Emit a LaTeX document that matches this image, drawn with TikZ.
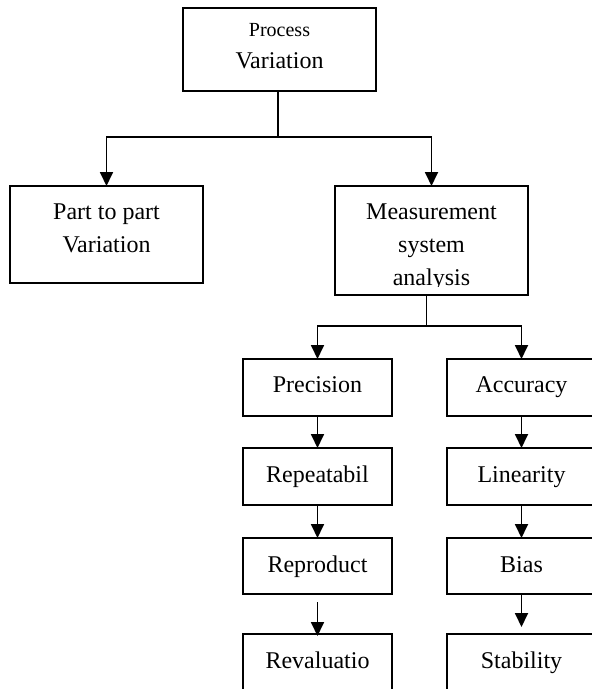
\documentclass[tikz,border=0pt]{standalone}
\usepackage{fontspec}
\setmainfont{Liberation Serif}
\usetikzlibrary{arrows.meta}
\begin{document}
\begin{tikzpicture}[x=1pt,y=-1pt,
  box/.style={draw=black, line width=1.8pt, fill=white, inner sep=0pt, outer sep=0pt, rectangle},
  bigbox/.style={box, minimum width=193pt},
  smallbox/.style={box, minimum width=149pt},
  lbl/.style={inner sep=0pt, anchor=base, font=\fontsize{24}{28}\selectfont},
  slbl/.style={inner sep=0pt, anchor=base, font=\fontsize{20}{24}\selectfont},
  conn/.style={line width=1.8pt},
  link/.style={line width=1.8pt, -{Triangle[width=13pt,length=14pt]}}]
\useasboundingbox (0,0) rectangle (592,689);
\clip (0,0) rectangle (592,689);
\fill[white] (0,0) rectangle (592,689);

% boxes
\node[bigbox, minimum height=83pt] (pv) at (279.5,49.5) {};
\node[bigbox, minimum height=97pt] (part) at (106.5,234.5) {};
\node[bigbox, minimum height=109pt] (meas) at (431.5,240.5) {};
\node[smallbox, minimum height=57pt] (prec) at (317.5,387.5) {};
\node[smallbox, minimum height=57pt] (acc) at (521.5,387.5) {};
\node[smallbox, minimum height=57pt] (rpt) at (317.5,476.5) {};
\node[smallbox, minimum height=57pt] (lin) at (521.5,476.5) {};
\node[smallbox, minimum height=56pt] (rpd) at (317.5,566) {};
\node[smallbox, minimum height=56pt] (bias) at (521.5,566) {};
\node[smallbox, minimum height=66pt] (reval) at (317.5,667) {};
\node[smallbox, minimum height=66pt] (stab) at (521.5,667) {};

% labels
\node[slbl] (t-process) at (279.5,36) {Process};
\node[lbl] (t-pvar) at (279.5,68) {Variation};
\node[lbl] (t-part1) at (106.5,219) {Part to part};
\node[lbl] (t-part2) at (106.5,252) {Variation};
\node[lbl] (t-meas1) at (431.5,219) {Measurement};
\node[lbl] (t-meas2) at (431.5,252) {system};
\begin{scope}
  \clip (336,186) rectangle (527,286);
  \node[lbl] (t-meas3) at (431.5,285) {analysis};
\end{scope}
\node[lbl] (t-prec) at (317.5,392) {Precision};
\node[lbl] (t-acc) at (521.5,392) {Accuracy};
\node[lbl] (t-rpt) at (317.5,482) {Repeatabil};
\node[lbl] (t-lin) at (521.5,482) {Linearity};
\node[lbl] (t-rpd) at (317.5,572) {Reproduct};
\node[lbl] (t-bias) at (521.5,572) {Bias};
\node[lbl] (t-reval) at (317.5,668) {Revaluatio};
\node[lbl] (t-stab) at (521.5,668) {Stability};

% connectors
\coordinate (j1) at (278,137);
\draw[conn] ([xshift=-1.5pt]pv.south) -- (j1);
\draw[link] (j1) -| (part.north);
\draw[link] (j1) -| (meas.north);

\coordinate (j2) at (426.5,326);
\draw[conn] ([xshift=-5pt]meas.south) -- (j2);
\draw[link] (j2) -| (prec.north);
\draw[link] (j2) -| (acc.north);

\draw[link] (prec.south) -- (rpt.north);
\draw[link] (rpt.south) -- (rpd.north);
\draw[link] ([yshift=-8pt]rpd.south) -- ([yshift=-2pt]reval.north);
\draw[link] (acc.south) -- (lin.north);
\draw[link] (lin.south) -- (bias.north);
\draw[link, shorten >=7pt] (bias.south) -- (stab.north);
\end{tikzpicture}
\end{document}
